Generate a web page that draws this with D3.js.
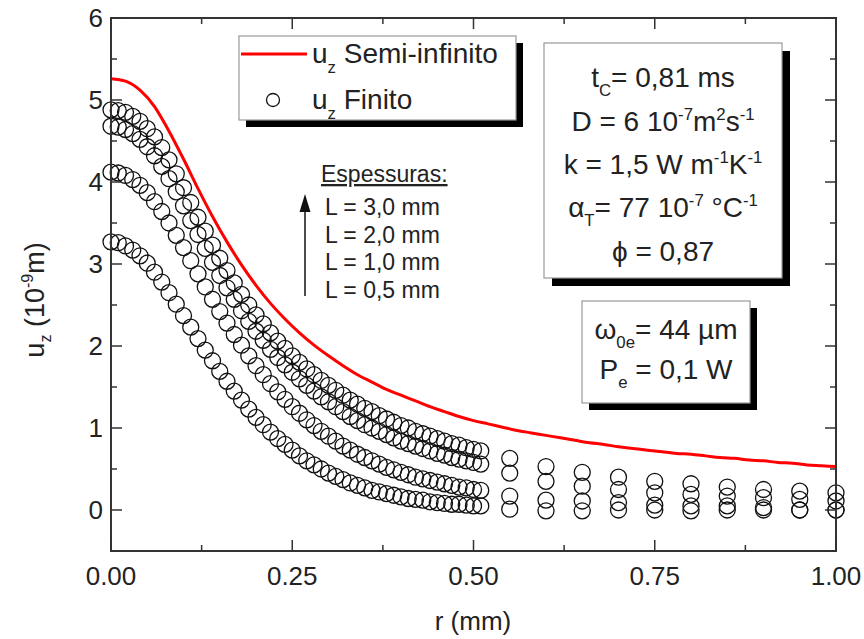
<!DOCTYPE html>
<html><head><meta charset="utf-8">
<script src="https://cdn.jsdelivr.net/npm/d3@7"></script>
<style>
body{margin:0;background:#fff;}
svg text{font-family:"Liberation Sans",Arial,sans-serif;}
</style></head>
<body><svg id="c" width="864" height="639"></svg>
<script>
// ---- data ----
const rDense = d3.range(0, 52).map(i => i / 100);   // 0.00 .. 0.51
const rSparse = [0.55, 0.60, 0.65, 0.70, 0.75, 0.80, 0.85, 0.90, 0.95, 1.00];
const rSemi = d3.range(0, 51).map(i => i / 50);     // 0.00 .. 1.00

const semiInfinito = [5.26,5.23,5.12,4.92,4.62,4.28,3.92,3.58,3.27,2.99,2.74,2.52,2.33,2.16,2.01,1.88,1.76,1.65,1.56,1.47,1.40,1.33,1.26,1.20,1.14,1.09,1.05,1.01,0.97,0.94,0.91,0.88,0.85,0.82,0.80,0.77,0.75,0.73,0.71,0.69,0.68,0.66,0.64,0.63,0.61,0.60,0.58,0.57,0.55,0.54,0.53];

const finitoL30 = [4.88,4.87,4.85,4.80,4.74,4.65,4.55,4.42,4.27,4.10,3.93,3.75,3.57,3.40,3.23,3.07,2.92,2.77,2.63,2.50,2.38,2.27,2.16,2.06,1.97,1.88,1.80,1.72,1.65,1.58,1.52,1.46,1.40,1.34,1.29,1.24,1.20,1.15,1.11,1.07,1.03,1.00,0.96,0.93,0.90,0.87,0.84,0.81,0.79,0.76,0.74,0.72,
  0.63,0.53,0.46,0.40,0.35,0.32,0.28,0.25,0.23,0.21];
const finitoL20 = [4.68,4.67,4.64,4.59,4.52,4.43,4.32,4.19,4.04,3.88,3.71,3.53,3.36,3.19,3.02,2.86,2.71,2.57,2.43,2.30,2.18,2.07,1.96,1.86,1.77,1.68,1.60,1.52,1.45,1.38,1.32,1.26,1.20,1.14,1.09,1.04,1.00,0.96,0.92,0.88,0.84,0.81,0.78,0.75,0.72,0.69,0.67,0.64,0.62,0.60,0.58,0.56,
  0.45,0.35,0.29,0.25,0.21,0.19,0.17,0.15,0.13,0.11];
const finitoL10 = [4.12,4.11,4.08,4.03,3.96,3.87,3.76,3.64,3.50,3.35,3.20,3.04,2.88,2.72,2.57,2.42,2.28,2.14,2.01,1.88,1.76,1.65,1.54,1.44,1.35,1.26,1.18,1.10,1.03,0.96,0.90,0.84,0.78,0.73,0.68,0.64,0.60,0.56,0.52,0.49,0.46,0.43,0.40,0.38,0.36,0.34,0.32,0.30,0.28,0.27,0.25,0.24,
  0.17,0.12,0.11,0.09,0.06,0.05,0.05,0.03,0.00,0.00];
const finitoL05 = [3.27,3.26,3.22,3.17,3.10,3.01,2.90,2.78,2.65,2.51,2.37,2.23,2.09,1.95,1.82,1.69,1.57,1.45,1.34,1.23,1.13,1.04,0.95,0.87,0.80,0.73,0.66,0.60,0.55,0.50,0.45,0.41,0.37,0.33,0.30,0.27,0.24,0.22,0.20,0.18,0.16,0.14,0.13,0.12,0.10,0.09,0.08,0.07,0.07,0.06,0.05,0.05,
  0.01,-0.01,-0.01,0.00,0.00,-0.01,0.00,0.00,0.00,0.00];

const xTicks = [0, 0.25, 0.5, 0.75, 1.0];
const xTickLabels = ["0.00", "0.25", "0.50", "0.75", "1.00"];
const yTicks = [0, 1, 2, 3, 4, 5, 6];
const espessuras = ["L = 3,0 mm", "L = 2,0 mm", "L = 1,0 mm", "L = 0,5 mm"];

// ---- layout ----
const svg = d3.select("#c");
const x = d3.scaleLinear().domain([0, 1]).range([111, 836]);
const y = d3.scaleLinear().domain([-0.5, 6]).range([551, 18]);
const FONT = 26;

// data: circles
const rAll = rDense.concat(rSparse);
const gPts = svg.append("g");
[finitoL05, finitoL10, finitoL20, finitoL30].forEach(series => {
  gPts.selectAll(null).data(series.map((v, i) => [rAll[i], v])).enter()
    .append("circle")
    .attr("cx", d => x(d[0])).attr("cy", d => y(d[1])).attr("r", 8)
    .attr("fill", "none").attr("stroke", "#111").attr("stroke-width", 1.3);
});

// red line
svg.append("path")
  .datum(semiInfinito.map((v, i) => [rSemi[i], v]))
  .attr("fill", "none").attr("stroke", "#ff0000").attr("stroke-width", 3)
  .attr("d", d3.line().curve(d3.curveMonotoneX).x(d => x(d[0])).y(d => y(d[1])));

// axes (ticks inward, mirrored)
const axG = svg.append("g").attr("stroke", "#333").attr("fill", "none");
axG.append("rect").attr("x", 111).attr("y", 18).attr("width", 725).attr("height", 533)
  .attr("stroke-width", 2);
const xMinor = d3.range(0, 1.0001, 0.125);
const yMinor = d3.range(-0.5, 6.0001, 0.5);
xMinor.forEach(v => {
  const major = Math.abs(v * 4 - Math.round(v * 4)) < 1e-6;
  const L = major ? 11 : 6;
  axG.append("line").attr("x1", x(v)).attr("x2", x(v)).attr("y1", 551).attr("y2", 551 - L).attr("stroke-width", 1.5);
  axG.append("line").attr("x1", x(v)).attr("x2", x(v)).attr("y1", 18).attr("y2", 18 + L).attr("stroke-width", 1.5);
});
yMinor.forEach(v => {
  const major = Math.abs(v - Math.round(v)) < 1e-6;
  const L = major ? 11 : 6;
  axG.append("line").attr("x1", 111).attr("x2", 111 + L).attr("y1", y(v)).attr("y2", y(v)).attr("stroke-width", 1.5);
  axG.append("line").attr("x1", 836).attr("x2", 836 - L).attr("y1", y(v)).attr("y2", y(v)).attr("stroke-width", 1.5);
});

// tick labels
svg.append("g").selectAll("text").data(xTicks).enter().append("text")
  .attr("x", d => x(d)).attr("y", 585).attr("text-anchor", "middle")
  .attr("font-size", FONT).attr("fill", "#222").text((d, i) => xTickLabels[i]);
svg.append("g").selectAll("text").data(yTicks).enter().append("text")
  .attr("x", 103).attr("y", d => y(d) + 9).attr("text-anchor", "end")
  .attr("font-size", FONT).attr("fill", "#222").text(d => d);

// axis titles
svg.append("text").attr("x", 473).attr("y", 630).attr("text-anchor", "middle")
  .attr("font-size", FONT).attr("fill", "#222").text("r (mm)");
const yt = svg.append("text").attr("transform", "translate(44,300) rotate(-90)")
  .attr("text-anchor", "middle").attr("font-size", 27).attr("fill", "#222");
yt.append("tspan").text("u");
yt.append("tspan").attr("font-size", 16).attr("dy", 7).text("z");
yt.append("tspan").attr("dy", -7).text(" (10");
yt.append("tspan").attr("font-size", 16).attr("dy", -11).text("-9");
yt.append("tspan").attr("dy", 11).text("m)");

// helper: boxed panel with shadow
function panel(x0, y0, w, h, sh) {
  svg.append("rect").attr("x", x0 + sh).attr("y", y0 + sh).attr("width", w).attr("height", h).attr("fill", "#000");
  svg.append("rect").attr("x", x0).attr("y", y0).attr("width", w).attr("height", h)
    .attr("fill", "#fff").attr("stroke", "#999").attr("stroke-width", 1.2);
}

// legend
panel(239, 36, 277, 84, 7);
svg.append("line").attr("x1", 241).attr("x2", 307).attr("y1", 54).attr("y2", 54)
  .attr("stroke", "#ff0000").attr("stroke-width", 3);
svg.append("circle").attr("cx", 273).attr("cy", 100).attr("r", 6.5)
  .attr("fill", "none").attr("stroke", "#111").attr("stroke-width", 1.3);
function subText(xp, yp, main, sub, rest, fs) {
  const t = svg.append("text").attr("x", xp).attr("y", yp).attr("font-size", fs).attr("fill", "#222");
  t.append("tspan").text(main);
  t.append("tspan").attr("font-size", fs * 0.6).attr("dy", 10).text(sub);
  t.append("tspan").attr("dy", -10).text(rest);
  return t;
}
subText(312, 63, "u", "z", " Semi-infinito", 28);
subText(312, 109, "u", "z", " Finito", 28);

// parameter panel
panel(544, 43, 238, 235, 8);
function richLine(cx, yp, parts, fs) {
  const t = svg.append("text").attr("x", cx).attr("y", yp).attr("text-anchor", "middle")
    .attr("font-size", fs).attr("fill", "#222");
  let cur = 0;
  parts.forEach(p => {
    const sp = t.append("tspan").text(p[0]);
    let off = p[1] === "sub" ? 9 : p[1] === "sup" ? -11 : 0;
    if (off !== cur) sp.attr("dy", off - cur);
    cur = off;
    if (p[1]) sp.attr("font-size", fs * 0.6);
  });
  return t;
}
richLine(663, 87, [["t"], ["C", "sub"], ["= 0,81 ms"]], 28);
richLine(663, 131, [["D = 6 10"], ["-7", "sup"], ["m"], ["2", "sup"], ["s"], ["-1", "sup"]], 28);
richLine(663, 174, [["k = 1,5 W m"], ["-1", "sup"], ["K"], ["-1", "sup"]], 28);
richLine(663, 217, [["\u03b1"], ["T", "sub"], ["= 77 10"], ["-7", "sup"], [" \u00b0C"], ["-1", "sup"]], 28);
richLine(663, 261, [["\u03d5 = 0,87"]], 28);

// beam panel
panel(582, 301, 168, 102, 7);
richLine(666, 339, [["\u03c9"], ["0e", "sub"], ["= 44 \u00b5m"]], 28);
richLine(666, 379, [["P"], ["e", "sub"], [" = 0,1 W"]], 28);

// espessuras annotation
svg.append("text").attr("x", 321).attr("y", 182).attr("font-size", 23).attr("fill", "#222")
  .attr("text-decoration", "underline").text("Espessuras:");
espessuras.forEach((s, i) => {
  svg.append("text").attr("x", 325).attr("y", 215 + i * 27.7).attr("font-size", 23)
    .attr("fill", "#222").text(s);
});
svg.append("line").attr("x1", 305).attr("x2", 305).attr("y1", 296).attr("y2", 206)
  .attr("stroke", "#111").attr("stroke-width", 1.5);
svg.append("path").attr("d", "M305,194 L299.5,212 L310.5,212 Z").attr("fill", "#111");
</script></body></html>
